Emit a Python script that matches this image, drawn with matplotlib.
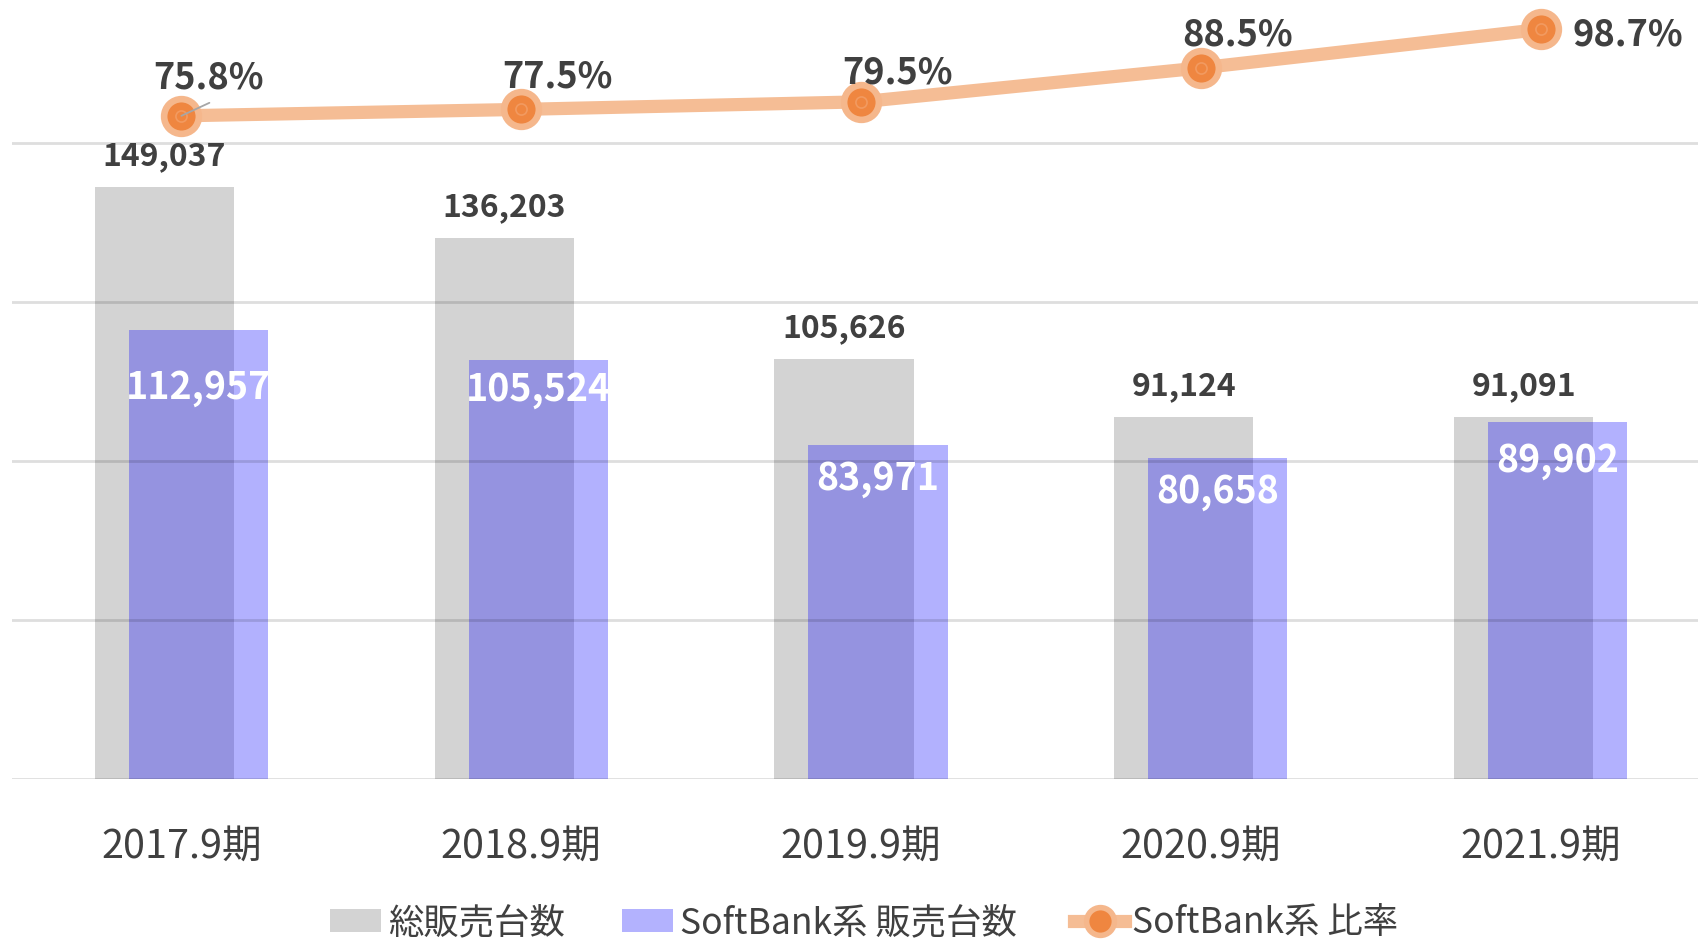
import matplotlib
matplotlib.use("Agg")
import matplotlib.pyplot as plt
from matplotlib.lines import Line2D
from matplotlib.patches import Patch

plt.rcParams['font.family'] = ['Noto Sans CJK JP', 'DejaVu Sans']

categories = ["2017.9期", "2018.9期", "2019.9期", "2020.9期", "2021.9期"]
total_units = [149037, 136203, 105626, 91124, 91091]
softbank_units = [112957, 105524, 83971, 80658, 89902]
softbank_ratio = [75.8, 77.5, 79.5, 88.5, 98.7]
legend_labels = ["総販売台数", "SoftBank系 販売台数", "SoftBank系 比率"]

W, H, DPI = 1698, 939, 100
fig = plt.figure(figsize=(W / DPI, H / DPI), dpi=DPI)

ax_left = 11.5 / W
ax_w = 1699 / W
ax_bottom = (H - 779) / H
ax_h = 779 / H
ax = fig.add_axes([ax_left, ax_bottom, ax_w, ax_h])
ax.set_xlim(-0.5, 4.5)
ax.set_ylim(0, 196000)

text_color = '#404040'
gray = '#D3D3D3'
blue = '#120EFC'
x = list(range(len(categories)))
bw = 0.41
off = 0.05

ax.bar([i - off for i in x], total_units, width=bw, color=gray, zorder=2)
ax.bar([i + off for i in x], softbank_units, width=bw, color=blue, alpha=0.32, zorder=3)

for y in [0, 40000, 80000, 120000, 160000]:
    ax.axhline(y, color='black', alpha=0.13, lw=2, zorder=4)

for s in ax.spines.values():
    s.set_visible(False)
ax.set_yticks([])
ax.set_xticks(x)
ax.set_xticklabels(categories, fontsize=28.5, color=text_color)
ax.tick_params(axis='x', length=0, pad=34.5)

# gray bar labels
for i, v in enumerate(total_units):
    ax.annotate(f"{v:,}", xy=(i - off, v), xytext=(0, 21.7), textcoords='offset pixels',
                ha='center', va='baseline', fontsize=23, fontweight='bold', color=text_color, zorder=6)

# blue bar labels (inside)
blue_offsets = [-68.7, -41.3, -44, -44, -50.3]
for i, v in enumerate(softbank_units):
    ax.annotate(f"{v:,}", xy=(i + off, v), xytext=(0, blue_offsets[i]), textcoords='offset pixels',
                ha='center', va='baseline', fontsize=27, fontweight='bold', color='white', zorder=6)

# secondary axis for ratio
ax2 = ax.twinx()
ax2.set_ylim(-100.0, 106.5)
ax2.set_yticks([])
for s in ax2.spines.values():
    s.set_visible(False)

line_color = '#F5BD95'
ax2.plot(x, softbank_ratio, color=line_color, lw=9.5, solid_capstyle='butt', zorder=5)
ax2.plot(x, softbank_ratio, linestyle='none', marker='o', markersize=25,
         markerfacecolor='#EF8640', markeredgecolor='#F5B78C', markeredgewidth=4.75, zorder=6)
ax2.plot(x, softbank_ratio, linestyle='none', marker='o', markersize=8,
         markerfacecolor='none', markeredgecolor='#F29A60', markeredgewidth=1.2, zorder=7)

# leader line for first label
ax2.annotate('', xy=(0, softbank_ratio[0]), xytext=(28, 13), textcoords='offset pixels',
             arrowprops=dict(arrowstyle='-', color='#A6A6A6', lw=1.3, shrinkA=0, shrinkB=0), zorder=8)

pct_offsets = [(27, 27), (36, 22), (37, 18), (37, 22.5), (31.5, -15.7)]
pct_ha = ['center', 'center', 'center', 'center', 'left']
for i, v in enumerate(softbank_ratio):
    ax2.annotate(f"{v}%", xy=(i, v), xytext=pct_offsets[i], textcoords='offset pixels',
                 ha=pct_ha[i], va='baseline', fontsize=26, fontweight='bold', color=text_color, zorder=9)

handles = [
    Patch(facecolor=gray, edgecolor='none'),
    Patch(facecolor='#B3B2FE', edgecolor='none'),
    Line2D([0], [0], color=line_color, lw=9.5, marker='o', markersize=20,
           markerfacecolor='#EF8640', markeredgecolor='#F5B78C', markeredgewidth=4),
]
leg = fig.legend(handles, legend_labels, loc='center', bbox_to_anchor=(0.509, 0.017), ncol=3,
                 frameon=False, fontsize=25.5, handlelength=1.45, handleheight=0.6,
                 handletextpad=0.2, columnspacing=1.6, labelcolor=text_color)

fig.savefig('out.png', dpi=DPI)
